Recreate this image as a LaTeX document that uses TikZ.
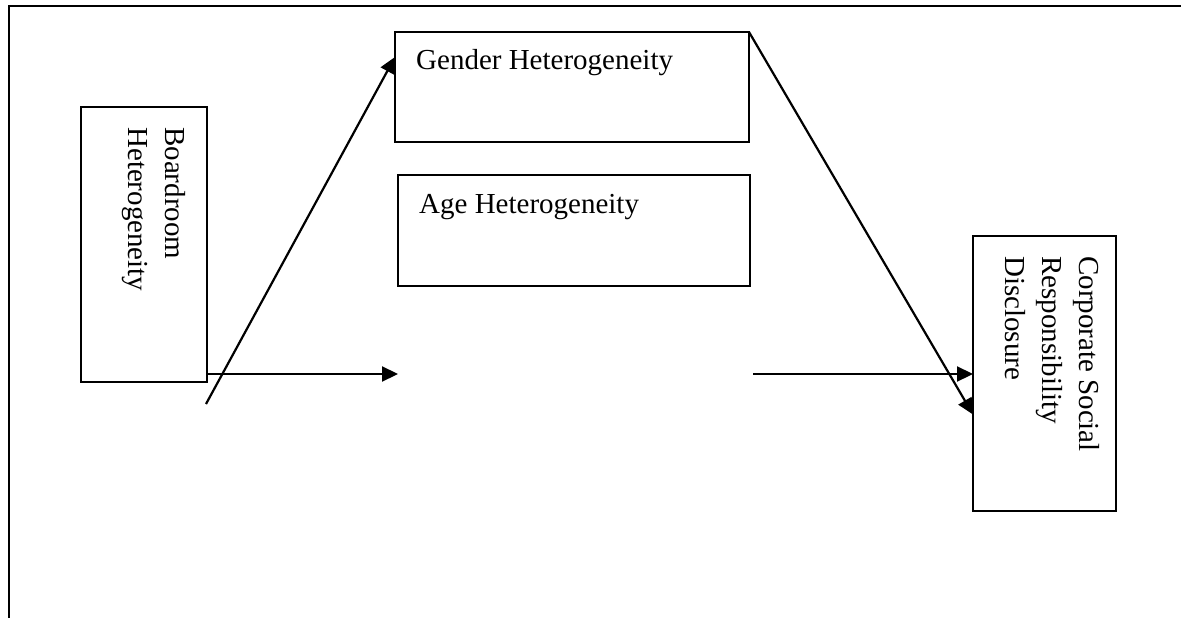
\documentclass[tikz,border=0pt]{standalone}
\usepackage{fontspec}
\setmainfont{Liberation Serif}
\usetikzlibrary{arrows.meta}
\tikzset{
  box/.style={draw, line width=2pt, inner sep=0pt, outer sep=0pt},
  lbl/.style={inner sep=0pt, font=\fontsize{29}{37}\selectfont},
  vlbl/.style={lbl, rotate=-90, align=left, anchor=north west},
  arr/.style={line width=2.2pt, -{Triangle[length=16pt,width=15pt]}}
}
\begin{document}
\begin{tikzpicture}[x=1pt,y=-1pt]
    \useasboundingbox (0,0) rectangle (1181,618);
    %Frame
    \draw[line width=2.8pt] (9,618) -- (9,6) -- (1181,6);
    %Boardroom
    \node[box, minimum width=126pt, minimum height=275pt] (board) at (144,244) {};
    \node[vlbl] (boardtxt) at (186,127) {Boardroom\\Heterogeneity};
    %Gender
    \node[box, minimum width=354pt, minimum height=110pt] (gender) at (572,87) {};
    \node[lbl, anchor=base west] (gendertxt) at (416,70) {Gender Heterogeneity};
    %Age
    \node[box, minimum width=352pt, minimum height=111pt] (age) at (574,230.5) {};
    \node[lbl, anchor=base west] (agetxt) at (419,213) {Age Heterogeneity};
    %CSR disclosure
    \node[box, minimum width=143pt, minimum height=275pt] (csr) at (1044.5,373.5) {};
    \node[vlbl] (csrtxt) at (1100,256) {Corporate Social\\Responsibility\\Disclosure};
    %Paths
    \coordinate (lowstart) at (206,404);
    \draw[arr] (lowstart) -- ([yshift=-25pt]gender.north west);
    \coordinate (midleft) at (398,374);
    \draw[arr] (board.east |- midleft) -- (midleft);
    \coordinate (midright) at (753,374);
    \draw[arr] (midright) -- (csr.west |- midright);
    \draw[arr] (gender.north east) -- ([yshift=-41pt]csr.west);
\end{tikzpicture}
\end{document}
